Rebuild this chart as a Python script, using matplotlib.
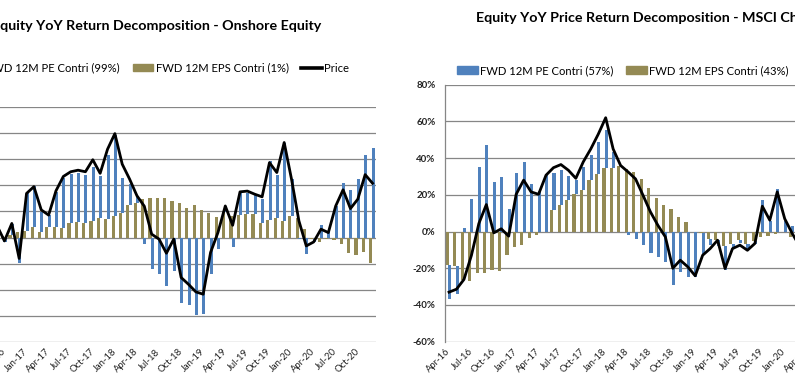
import numpy as np
import pandas as pd
import matplotlib
matplotlib.use("Agg")
import matplotlib.pyplot as plt
from matplotlib.patches import Patch
from matplotlib.lines import Line2D

plt.rcParams['font.family'] = ['Lato', 'DejaVu Sans']

BLUE = '#4F81BD'
OLIVE = '#948A54'
GRID = '#868686'

# monthly categories Apr-16 .. Dec-20 (57 months)
months = list(pd.date_range('2016-04-01', periods=57, freq='MS').strftime('%b-%y'))

# ---- left chart: onshore equity (data from Sep-16, index 5) ----
on_start = 5
on_pe = [np.nan, -1.7, 4.3, -9.8, 14.3, 15.6, 7.3, 4.3, 13.5, 19.3, 18.9, 18.9, 18.4,
         20.6, 16.2, 24.5, 30.8, 13.7, 8.0, 2.7, -2.6, -12.1, -14.0, -18.5, -12.8,
         -25.2, -25.9, -29.8, -29.4, -14.0, -4.5, 2.3, -3.6, 8.9, 8.0, 7.7, 9.2, 22.7,
         16.5, 30.1, 14.2, -0.5, -6.4, -1.2, 5.0, 2.6, 12.1, 21.0, 18.3, 22.3, 31.5, 34.2]
on_eps = [np.nan, 0.5, 1.0, 2.2, 2.6, 4.0, 2.3, 4.2, 4.0, 3.6, 5.5, 5.9, 5.5,
          6.3, 7.4, 7.0, 8.4, 9.3, 12.4, 13.3, 14.7, 15.1, 15.1, 15.1, 13.9,
          13.2, 11.2, 12.4, 10.5, 9.3, 7.8, 9.6, 8.4, 8.6, 8.9, 8.9, 5.7, 6.6,
          7.4, 6.3, 8.2, 7.4, 3.2, -0.5, -1.7, -0.4, -0.9, -2.3, -6.0, -6.6, -5.5, -9.8]
on_price = [4.5, -1.3, 5.4, -8.0, 16.9, 19.5, 10.6, 8.6, 17.9, 23.4, 25.2, 25.8, 25.2,
            29.8, 24.6, 33.8, 39.8, 28.1, 22.4, 16.0, 12.0, 1.3, -0.6, -6.0, -0.6,
            -15.3, -17.9, -20.8, -21.7, -5.7, 1.9, 12.1, 4.7, 17.5, 17.8, 16.6, 15.6,
            28.7, 24.9, 36.4, 22.3, 6.4, -3.2, -1.7, 3.2, 1.9, 12.1, 18.3, 11.1, 14.7,
            24.1, 20.8]

# ---- right chart: MSCI China (data from Apr-16, index 0) ----
ms_start = 0
ms_pe = [-19.0, -15.0, 2.0, 17.6, 35.0, 47.0, 27.0, 29.6, 12.3, 31.8, 37.7, 25.8,
         22.0, 30.7, 20.0, 19.4, 13.4, 7.6, 12.7, 13.8, 17.4, 20.3, 8.3, 0.0,
         -2.0, -4.3, -7.4, -11.8, -13.8, -16.7, -28.9, -22.3, -24.7, -24.5, -11.0,
         -2.9, -3.5, -13.2, -2.0, -1.8, -3.0, -1.3, 17.0, 6.0, 23.0, 6.0, 3.0]
ms_eps = [-18.0, -19.0, -26.5, -27.0, -22.5, -22.5, -21.0, -21.6, -13.0, -8.5, -7.2, -3.5,
          -2.1, 0.0, 12.0, 14.3, 17.0, 20.3, 22.5, 28.0, 31.2, 34.8, 34.8, 35.6,
          34.3, 32.3, 28.5, 23.6, 18.1, 14.3, 12.2, 8.0, 5.0, 0.0, -1.0,
          -4.2, -4.4, -7.8, -6.7, -4.7, -6.7, -5.3, -3.0, -2.4, -1.3, 0.0, -3.0]
ms_price = [-33.0, -31.4, -26.1, -13.0, 4.4, 14.7, -0.7, 1.5, -2.5, 20.3, 28.0, 21.6,
            20.3, 30.7, 34.8, 36.5, 33.4, 29.0, 38.0, 45.0, 53.0, 62.0, 45.0, 36.0,
            32.5, 28.7, 19.8, 10.7, 3.4, -2.9, -20.0, -15.6, -19.2, -24.1, -12.9,
            -9.3, -4.7, -20.1, -9.3, -7.4, -10.2, -6.5, 13.8, 6.2, 21.6, 7.0, -1.0, -8.0]

W, H = 795, 386
fig = plt.figure(figsize=(W / 100, H / 100), dpi=100)


def px_box(x0, y0, x1, y1):
    return [x0 / W, 1 - y1 / H, (x1 - x0) / W, (y1 - y0) / H]


def draw_panel(ax, start, pe, eps, price, ylim, step):
    pe = np.array(pe, float)
    eps = np.array(eps, float)
    x = np.arange(start, start + len(pe))
    bottom = np.where(np.sign(pe) == np.sign(eps), eps, 0.0)
    ax.bar(x - 0.235, eps, width=0.43, color=OLIVE, zorder=2)
    ax.bar(x + 0.075, pe, width=0.41, bottom=bottom, color=BLUE, zorder=2)
    xp = np.arange(start, start + len(price))
    ax.plot(xp, price, color='black', lw=2.0, solid_joinstyle='round', zorder=3)

    ax.set_xlim(-0.5, len(months) - 0.5)
    ax.set_ylim(*ylim)
    ticks = np.arange(ylim[0], ylim[1] + 1, step)
    ax.set_yticks(ticks)
    ax.set_yticklabels(['%d%%' % v for v in ticks],
                       fontsize=7, fontweight='bold', color='#222222')
    ax.set_xticks(range(0, len(months), 3))
    ax.set_xticklabels(months[::3], rotation=45, ha='right', va='center',
                       rotation_mode='anchor', fontsize=6.8, color='#222222')
    ax.tick_params(axis='x', length=0, pad=6)
    ax.tick_params(axis='y', length=0, pad=7)
    ax.yaxis.grid(True, color=GRID, lw=0.9)
    ax.set_axisbelow(True)
    for s in ['top', 'right', 'bottom']:
        ax.spines[s].set_visible(False)
    ax.spines['left'].set_color(GRID)
    ax.spines['left'].set_linewidth(0.9)


ax1 = fig.add_axes(px_box(-43.4, 107, 376.2, 342))
draw_panel(ax1, on_start, on_pe, on_eps, on_price, (-40, 50), 10)

ax2 = fig.add_axes(px_box(445.3, 84.7, 870.5, 341.7))
draw_panel(ax2, ms_start, ms_pe, ms_eps, ms_price, (-60, 80), 20)

fig.text(321 / W, 1 - 26 / H, 'Equity YoY Return Decomposition - Onshore Equity',
         ha='right', va='center', fontsize=10.3, fontweight='bold')
fig.text(476 / W, 1 - 17.5 / H, 'Equity YoY Price Return Decomposition - MSCI China',
         ha='left', va='center', fontsize=10.3, fontweight='bold')

leg_kw = dict(ncol=3, frameon=False, fontsize=8.1, handlelength=1.85, handleheight=0.62,
              handletextpad=0.2, columnspacing=1.1, borderpad=0, borderaxespad=0)

h1 = [Patch(color=BLUE), Patch(color=OLIVE), Line2D([], [], color='black', lw=2.6)]
fig.legend(h1, ['FWD 12M PE Contri (99%)', 'FWD 12M EPS Contri (1%)', 'Price'],
           loc='center right', bbox_to_anchor=(349 / W, 1 - 68 / H), **leg_kw)

h2 = [Patch(color=BLUE), Patch(color=OLIVE), Line2D([], [], color='black', lw=2.6)]
fig.legend(h2, ['FWD 12M PE Contri (57%)', 'FWD 12M EPS Contri (43%)', 'Price'],
           loc='center left', bbox_to_anchor=(457 / W, 1 - 70.5 / H), **leg_kw)

fig.savefig('out.png', dpi=100)
